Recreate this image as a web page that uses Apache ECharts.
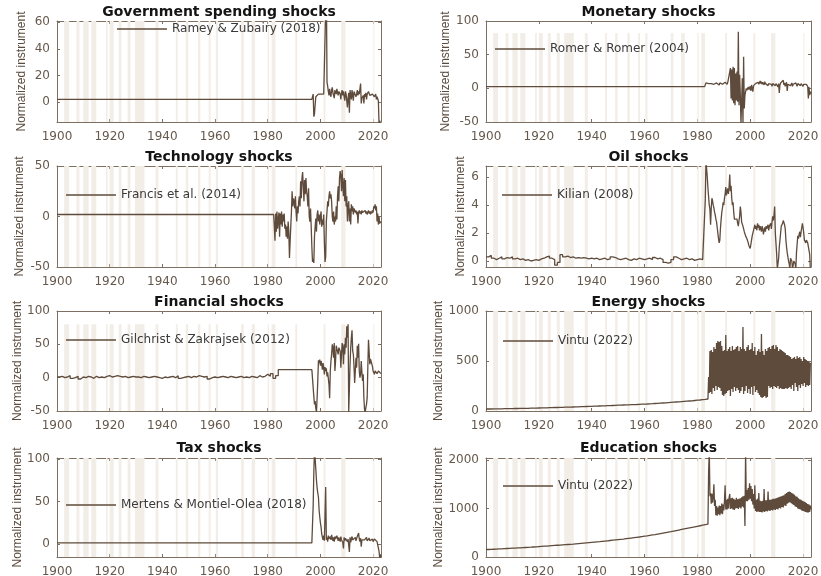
<!DOCTYPE html>
<html>
<head>
<meta charset="utf-8">
<script src="https://cdn.jsdelivr.net/npm/echarts@6.0.0/dist/echarts.min.js"></script>
<style>
  html, body { margin: 0; padding: 0; background: #ffffff; }
  #chart { width: 821px; height: 576px; }
</style>
</head>
<body>
<div id="chart"></div>
<script>
// ---- tick labels -------------------------------------------------------
const yearTicks = [1900, 1920, 1940, 1960, 1980, 2000, 2020];
const govTicks = [0, 20, 40, 60];
const monTicks = [-50, 0, 50, 100];
const techTicks = [-50, 0, 50];
const oilTicks = [0, 2, 4, 6];
const finTicks = [-50, 0, 50, 100];
const energyTicks = [0, 500, 1000];
const taxTicks = [0, 50, 100];
const eduTicks = [0, 1000, 2000];

// ---- US recession periods (start, end) shaded in every panel -----------
const recessions = [
  [1902.7, 1904.6], [1907.4, 1908.5], [1910.0, 1912.0], [1913.0, 1914.9],
  [1918.6, 1919.2], [1920.0, 1921.5], [1923.4, 1924.5], [1926.8, 1927.9],
  [1929.6, 1933.2], [1937.4, 1938.5], [1945.1, 1945.8], [1948.9, 1949.8],
  [1953.5, 1954.4], [1957.6, 1958.3], [1960.3, 1961.1], [1969.9, 1970.9],
  [1973.9, 1975.2], [1980.0, 1980.5], [1981.5, 1982.9], [1990.5, 1991.2],
  [2001.2, 2001.9], [2007.9, 2009.5], [2020.1, 2020.3]
];

// ---- Government spending shocks: Ramey & Zubairy (2018) ----------------
const govFlat = [[1900, 2], [1996.75, 2]];
const govQuarterStart = 1997;
const govQuarterly = [
  2, 6, -11, -9,   -2, 4, 5, 5,   5, 6, 5, 6,   5, 6, 5, 6,   5, 6, 6, 7,
  5, 90, 15, 12,   8, 5, 10, 6,   4, 9, 11, 7,   6, 3, 9, 8,   6, 10, 7, 5,
  8, 9, 6, 2,   7, 9, 5, 8,   4, 1, 8, 6,   5, -4, 3, 7,   -8, 9, 8, 2,
  9, 5, 1, 8,   7, 8, 4, 6,   9, 5, 8, 6,   10, 14, -1, 3,   2, 5, -1, 6,
  4, 7, 2, 6,   5, 8, 7, 5,   6, 5, 4, 6,   5, 6, 4, 5,   6, 2, 4, 3,
  1, -16, -14, -16,   -16
];

// ---- Monetary shocks: Romer & Romer (2004) -----------------------------
const monFlat = [[1900, 2.5], [1982.75, 2.5]];
const monQuarterStart = 1983;
const monQuarterly = [
  3, 8, 7, 6,   9, 7, 5, 8,   6, 7, 5, 6,   8, 6, 7, 5,   6, 8, 7, 6,
  7, 5, 8, 6,   7, 8, 6, 7,   8, 7, 9, 7,   8, 6, 9, 8,   7, 9, 30, -15,
  28, -18, 32, -22,   30, -25, 22, -18,   25, -20, 84, -25,   20, -10, -52, -52,
  15, -52, 47, -30,   -10, -8, 0, -3,   -5, 2, -2, 0,   3, -4, 5, 6,   -5, 4, 6, 5,
  7, 5, 8, 6,   9, 6, 8, 11,   7, 10, 6, 9,   8, 5, 10, 7,   9, 6, 8, 4,
  7, 9, 5, 8,   6, 3, 7, 8,   5, 8, 4, 7,   8, 6, 2, 7,   -7, 5, 8, 6,
  7, 9, 12, 5,   8, 3, 6, 9,   -4, 6, 8, 5,   7, 4, 6, 8,   3, 6, 7, 4,
  5, 8, 6, 3,   7, 5, 6, 8,   4, 7, 5, 6,   3, 6, 5, 7,   4, 6, 5, 3,
  -15, 2, -10, -5,   -8
];

// ---- Technology shocks: Francis et al. (2014) ---------------------------
const techFlat = [[1900, 2], [1982.25, 2]];
const techQuarterStart = 1982.5;
const techQuarterly = [
  -10, -24,
  3, -15, 5, -12,   -3, 4, -20, 3,   -8, 5, -10, 2,   -5, 3, -12, -8,
  -20, -10, -22, -5,   -15, -41, -25, -10,   5, 25, 10, 18,   15, 8, 20, 5,
  -5, 10, 3, 15,   20, 10, 35, 18,   38, 44, 30, 15,   36, 22, 38, 25,
  20, 10, 28, 0,   -5, 8, -10, -30,   -45, -42, -46, -20,   -10, -2, -15, 2,
  6, -5, 2, -8,   0, 5, -10, -3,   -8, 2, -25, -45,   -40, -5, 5, 15,
  10, 20, 25, 18,   22, 15, 0, -5,   5, -8, 0, -5,   10, -3, 20, 30,
  15, 38, 45, 40,   25, 46, 30, 20,   38, 15, 36, 10,   20, -5, 10, 15,
  -5, 8, -8, 12,   5, 10, 2, 8,   7, 4, 6, 2,   5, -7, 4, 6,
  3, 5, 2, 6,   4, 3, 5, 4,   6, 3, 5, 2,   4, 6, 3, 5,
  2, 5, 3, 6,   4, 10, 8, 12,   6, 10, -5, 3,   -8, 0, -7, -5,   -6
];

// ---- Oil shocks: Kilian (2008) -----------------------------------------
const oilYearStart = 1900;
const oilYearly = [
  0.3, 0.4, 0.2, 0.1, 0.2, 0.3, 0.15, 0.25, 0.2, 0.3,
  0.15, 0.2, 0.1, 0.15, 0.05, 0.1, 0.0, 0.05, 0.1, 0.05,
  0.15, 0.2, 0.3, 0.35, 0.2, 0.1, -0.3, -0.1, 0.45, 0.3,
  0.35, 0.25, 0.3, 0.2, 0.25, 0.2, 0.25, 0.2, 0.15, 0.2,
  0.15, 0.2, 0.1, 0.15, 0.2, 0.1, 0.15, 0.3, 0.25, 0.15,
  0.1, 0.15, 0.2, 0.1, 0.05, 0.15, 0.1, 0.2, 0.15, 0.1,
  0.15, 0.2, 0.1, 0.25, 0.15, 0.2, 0.1, -0.1, -0.15, -0.1,
  0.1, 0.3, 0.2, 0.1, 0.15, 0.2, 0.1, 0.15, 0.05, 0.1,
  0.15, 0.1, 0.05
];
const oilQuarterStart = 1982.5;
const oilQuarterly = [
  0.1, 0.2,
  4.4, 7.2, 7.2, 6.0,   5.2, 4.6, 4.0, 3.7,   2.6, 3.8, 4.5, 4.3,   4.0, 3.8, 3.5, 3.3,
  3.0, 2.8, 2.4, 2.0,   1.6, 1.3, 1.5, 2.4,   3.0, 3.5, 3.8, 4.2,   4.0, 4.5, 4.8, 5.3,
  4.7, 5.0, 5.2, 4.8,   5.3, 6.2, 5.0, 5.4,   4.5, 4.0, 4.2, 3.5,   3.0, 3.1, 2.9, 3.1,
  3.0, 2.7, 2.5, 2.9,   3.2, 3.9, 3.5, 2.8,   2.7, 2.5, 2.3, 2.1,   2.0, 1.8, 1.9, 1.6,
  1.5, 1.3, 1.1, 1.0,   0.9, 1.2, 1.5, 1.8,   2.0, 2.2, 2.3, 2.6,   2.3, 2.5, 2.2, 2.7,
  2.4, 2.6, 2.2, 2.5,   2.3, 2.1, 2.5, 2.3,   1.9, 2.2, 2.4, 2.1,   2.5, 2.3, 2.4, 2.6,
  2.2, 2.5, 2.4, 2.7,   2.3, 2.8, 3.2, 2.9,   3.3, 3.9, 2.0, 1.9,   0.5, -0.6, -0.6, 0.2,
  1.0, 1.5, 2.0, 2.5,   2.4, 2.7, 2.9, 2.8,   2.6, 2.3, 1.5, 1.0,   0.6, 0.3, 0.0, -0.2,
  -0.6, 0.2, 0.1, 0.0,   -0.6, -0.6, 0.0, 0.1,   -0.2, -0.6, 0.6, 1.2,   1.8, 1.6, 1.9, 2.1,
  1.7, 2.1, 2.4, 2.7,   2.4, 2.0, 1.5, 1.4,   1.3, 1.5, 1.4, 1.3,   1.4, 1.4, 0.5, -0.6,
  -0.6
];

// ---- Financial shocks: Gilchrist & Zakrajsek (2012) ---------------------
const finYearStart = 1900;
const finYearly = [
  1, 2, 0, 1, 3, -1, 0, 2, -2, 1,
  0, 2, 1, -1, 2, 0, 1, 0, 2, 3,
  1, 2, 3, 2, 1, 2, 0, 1, 2, 1,
  1, 0, 2, 1, 0, 1, 2, 1, 0, -1,
  1, 0, 1, 2, 0, 3, -1, 0, 1, 2,
  0, 2, 1, 3, 2, 1, 2, -2, 0, 1,
  0, 1, 2, 1, 0, 2, 1, 0, 1, 2,
  0, 1, 0, 2, 1, 0, 3, 1, 2, 5,
  2, 6, -1, 3
];
const finFlat = [[1984, 12], [1996.75, 12]];
const finQuarterStart = 1997;
const finQuarterly = [
  12, 12, -28, -40,   -35, -46, -52, -30,   -5, 26, 22, 27,   18, 25, 20, 12,
  22, 15, 5, 16,   10, 14, 2, 8,   5, -10, -31, 10,   25, 35, 50, 45,
  30, 52, 10, 25,   48, 45, 50, 35,   45, 48, 40, 15,   35, 52, 45, 20,
  50, 35, 60, 45,   77, 60, 80, -52,   -52, 20, 45, 60,   71, 40, 35, 17,
  -8, 10, 30, 15,   48, 30, 51, 10,   0, 5, 25, 8,   -5, 5, -30, -48,
  -52, -45, -40, -30,   15, 57, 59, 20,   28, 25, 30, 17,   10, 8, 5, 10,
  8, 11, 6, 9,   10, 8, 9, 8,   6
];

// ---- Energy shocks: Vintu (2022) ---------------------------------------
const energyYearStart = 1900;
const energyYearly = [
  20, 20, 21, 21, 22, 22, 23, 23, 24, 24,
  25, 25, 26, 26, 27, 27, 28, 28, 29, 30,
  31, 32, 32, 33, 34, 35, 35, 36, 37, 38,
  39, 39, 40, 41, 42, 43, 44, 45, 46, 47,
  48, 49, 50, 51, 52, 53, 54, 55, 56, 58,
  59, 60, 61, 62, 63, 64, 65, 67, 68, 69,
  70, 72, 73, 75, 76, 78, 80, 82, 84, 86,
  88, 90, 92, 94, 96, 98, 100, 102, 105, 108,
  110, 113, 116, 120, 123
];
const energyQuarterStart = 1984.25;
const energyQuarterly = [
  340, 180, 600,
  190, 610, 170, 590,   230, 640, 200, 620,   250, 680, 210, 700,   240, 690, 230, 700,
  200, 650, 160, 600,   150, 610, 170, 760,   180, 600, 200, 620,   210, 640, 150, 600,
  220, 650, 190, 610,   240, 620, 200, 640,   230, 650, 210, 600,   180, 640, 200, 620,
  240, 840, 170, 620,   200, 600, 250, 640,   180, 660, 220, 610,   170, 620, 240, 680,
  160, 600, 250, 640,   190, 560, 210, 600,   180, 620, 160, 590,   140, 770, 130, 600,
  140, 560, 150, 620,   130, 600, 140, 630,   250, 640, 230, 620,   240, 650, 220, 660,
  250, 620, 240, 660,   230, 640, 250, 600,   220, 620, 230, 610,   220, 600, 220, 590,
  220, 580, 230, 560,   220, 560, 230, 550,   240, 540, 220, 520,   260, 530, 200, 540,
  280, 520, 240, 550,   200, 530, 260, 540,   230, 520, 270, 500,   250, 540, 280, 520,
  240, 510, 260, 500,   250, 490, 260, 480,   470
];

// ---- Tax shocks: Mertens & Montiel-Olea (2018) -------------------------
const taxFlat = [[1900, 1.5], [1996.75, 1.5]];
const taxQuarterStart = 1997;
const taxQuarterly = [
  1.5, 45, 85, 110,   100, 88, 75, 66,   60, 55, 40, 32,   25, 20, 12, 8,
  5, 10, 4, 35,   67, 5, 8, 3,   10, 6, 4, 9,   5, 11, 7, 4,
  8, 3, 9, 6,   5, 10, 7, 4,   8, 6, 3, 9,   5, 7, 2, -5,
  8, 4, 7, 5,   9, 3, 6, 4,   -9, 8, 2, 6,   9, 5, 7, 3,
  6, 8, 4, 7,   5, 9, 13, 6,   3, 7, -3, 5,   6, 4, 7, 5,
  3, 6, 8, 4,   6, 5, 7, 4,   5, 6, 4, 6,   3, 5, 6, 4,
  5, 4, 3, 2,   1, -8, -16, -12,   -16
];

// ---- Education shocks: Vintu (2022) ------------------------------------
const eduYearStart = 1900;
const eduYearly = [
  155, 157, 160, 163, 166, 169, 172, 175, 178, 181,
  184, 187, 190, 193, 196, 199, 202, 206, 210, 214,
  218, 222, 226, 230, 234, 238, 242, 246, 250, 254,
  258, 262, 266, 271, 276, 281, 286, 291, 296, 301,
  306, 311, 316, 322, 328, 334, 340, 346, 352, 358,
  364, 370, 377, 384, 391, 398, 405, 412, 420, 428,
  436, 445, 454, 463, 473, 483, 493, 503, 513, 523,
  534, 545, 556, 567, 578, 589, 600, 611, 622, 633,
  644, 655, 666, 677, 688
];
const eduQuarterStart = 1984.25;
const eduQuarterly = [
  1750, 2200, 1250,
  1320, 1100, 1300, 1120,   1250, 1500, 1050, 1180,   860, 1050, 850, 1020,
  880, 1060, 860, 1050,   900, 1100, 880, 1080,   960, 1150, 1480, 980,
  1180, 980, 1200, 1000,   1220, 1300, 990, 1210,   1000, 1220, 980, 1200,
  970, 1180, 1000, 1220,   1010, 1190, 990, 1200,   1020, 1210, 1000, 1230,
  1040, 1250, 1020, 1260,   640, 2200, 1150, 1380,   1150, 1420, 1180, 1520,
  1200, 1460, 1150, 1400,   1080, 1300, 1000, 1480,   950, 1180, 930, 1200,
  940, 1320, 930, 1160,   930, 1150, 920, 1160,   940, 1400, 930, 1170,
  950, 1170, 940, 1350,   960, 1180, 950, 1180,   970, 1190, 960, 1200,
  980, 1200, 970, 1210,   990, 1220, 980, 1230,   1010, 1240, 1000, 1250,
  1030, 1260, 1020, 1270,   1060, 1300, 1050, 1320,   1100, 1340, 1120, 1350,
  1130, 1340, 1110, 1320,   1090, 1300, 1070, 1280,   1040, 1250, 1030, 1240,
  1000, 1210, 990, 1190,   980, 1180, 960, 1160,   950, 1150, 940, 1130,
  930, 1110, 920, 1090,   920, 1080, 930, 1060,   980
];

// ---- helpers turning the value lists into [year, value] pairs ----------
function byStep(start, step, values) {
  return values.map(function (v, i) { return [start + i * step, v]; });
}
const Q = 0.25;

const panels = [
  { title: 'Government spending shocks', name: 'Ramey & Zubairy (2018)',
    data: govFlat.concat(byStep(govQuarterStart, Q, govQuarterly)),
    col: 0, row: 0, yMin: -15, yMax: 61, ticks: govTicks, bandTop: null,
    nameGap: 29, legend: [117, 30] },
  { title: 'Monetary shocks', name: 'Romer & Romer (2004)',
    data: monFlat.concat(byStep(monQuarterStart, Q, monQuarterly)),
    col: 1, row: 0, yMin: -50, yMax: 100, ticks: monTicks, bandTop: 82,
    nameGap: 34, legend: [495, 50] },
  { title: 'Technology shocks', name: 'Francis et al. (2014)',
    data: techFlat.concat(byStep(techQuarterStart, Q, techQuarterly)),
    col: 0, row: 1, yMin: -50, yMax: 50, ticks: techTicks, bandTop: null,
    nameGap: 31, legend: [66, 196] },
  { title: 'Oil shocks', name: 'Kilian (2008)',
    data: byStep(oilYearStart, 1, oilYearly).concat(byStep(oilQuarterStart, Q, oilQuarterly)),
    col: 1, row: 1, yMin: -0.43, yMax: 6.81, ticks: oilTicks, bandTop: null,
    nameGap: 19, legend: [502, 196] },
  { title: 'Financial shocks', name: 'Gilchrist & Zakrajsek (2012)',
    data: byStep(finYearStart, 1, finYearly).concat(finFlat, byStep(finQuarterStart, Q, finQuarterly)),
    col: 0, row: 2, yMin: -50, yMax: 100, ticks: finTicks, bandTop: 80,
    nameGap: 32, legend: [66, 341] },
  { title: 'Energy shocks', name: 'Vintu (2022)',
    data: byStep(energyYearStart, 1, energyYearly).concat(byStep(energyQuarterStart, Q, energyQuarterly)),
    col: 1, row: 2, yMin: 0, yMax: 1000, ticks: energyTicks, bandTop: null,
    nameGap: 35, legend: [503, 342] },
  { title: 'Tax shocks', name: 'Mertens & Montiel-Olea (2018)',
    data: taxFlat.concat(byStep(taxQuarterStart, Q, taxQuarterly)),
    col: 0, row: 3, yMin: -15, yMax: 101, ticks: taxTicks, bandTop: null,
    nameGap: 29, legend: [66, 506] },
  { title: 'Education shocks', name: 'Vintu (2022)',
    data: byStep(eduYearStart, 1, eduYearly).concat(byStep(eduQuarterStart, Q, eduQuarterly)),
    col: 1, row: 3, yMin: 0, yMax: 2040, ticks: eduTicks, bandTop: null,
    nameGap: 36, legend: [503, 487] }
];

// ---- layout and styling -------------------------------------------------
const colLeft = [57, 486];
const colWidth = [324, 325];
const rowTop = [21, 166, 311, 458];
const rowHeight = [101, 101, 100, 99];
const titleY = [12, 157, 302.5, 448];

const lineColor = '#5f4b3b';
const bandColor = '#f2ede7';
const axisColor = '#7d6f62';
const labelColor = '#66584b';
const baseFont = "'DejaVu Sans', Verdana, sans-serif";
const nameFont = "'Liberation Sans', Arial, sans-serif";
const plainNumber = function (v) { return String(v); };

const grid = [], xAxis = [], yAxis = [], series = [], legend = [], graphic = [];

panels.forEach(function (p, i) {
  const left = colLeft[p.col];
  const width = colWidth[p.col];
  grid.push({ left: left, top: rowTop[p.row], width: width, height: rowHeight[p.row],
              containLabel: false, outerBoundsMode: 'none' });

  const axLine = { show: true, onZero: false, lineStyle: { color: axisColor, width: 1 } };
  // bottom / top x axes (top one only closes the box and carries ticks)
  xAxis.push({ gridIndex: i, type: 'value', min: 1900, max: 2023, position: 'bottom',
    axisLine: axLine, splitLine: { show: false },
    axisTick: { show: true, inside: true, length: 3, customValues: yearTicks, lineStyle: { color: axisColor } },
    axisLabel: { show: true, customValues: yearTicks, formatter: plainNumber, margin: 9,
                 color: labelColor, fontFamily: baseFont, fontSize: 12 } });
  xAxis.push({ gridIndex: i, type: 'value', min: 1900, max: 2023, position: 'top',
    axisLine: axLine, splitLine: { show: false },
    axisTick: { show: true, inside: true, length: 3, customValues: yearTicks, lineStyle: { color: axisColor } },
    axisLabel: { show: false } });
  // left / right y axes
  yAxis.push({ gridIndex: i, type: 'value', min: p.yMin, max: p.yMax, position: 'left',
    axisLine: axLine, splitLine: { show: false },
    axisTick: { show: true, inside: true, length: 3, customValues: p.ticks, lineStyle: { color: axisColor } },
    axisLabel: { show: true, customValues: p.ticks, formatter: plainNumber, margin: 7,
                 color: labelColor, fontFamily: baseFont, fontSize: 12 },
    name: 'Normalized instrument', nameLocation: 'middle', nameGap: p.nameGap, nameRotate: 90,
    nameTextStyle: { color: '#5b4c3f', fontFamily: nameFont, fontSize: 12 } });
  yAxis.push({ gridIndex: i, type: 'value', min: p.yMin, max: p.yMax, position: 'right',
    axisLine: axLine, splitLine: { show: false },
    axisTick: { show: true, inside: true, length: 3, customValues: p.ticks, lineStyle: { color: axisColor } },
    axisLabel: { show: false } });

  const bandTop = p.bandTop === null ? p.yMax : p.bandTop;
  series.push({
    type: 'custom', xAxisIndex: 2 * i, yAxisIndex: 2 * i, silent: true, z: 1, clip: true,
    data: recessions.map(function (r) { return [r[0], r[1], bandTop, p.yMin]; }),
    encode: { x: [0, 1], y: [2, 3] },
    renderItem: function (params, api) {
      const a = api.coord([api.value(0), api.value(2)]);
      const b = api.coord([api.value(1), api.value(3)]);
      return { type: 'rect',
        shape: { x: a[0], y: a[1], width: Math.max(b[0] - a[0], 1), height: b[1] - a[1] },
        style: { fill: bandColor } };
    }
  });
  series.push({
    type: 'line', name: p.name, xAxisIndex: 2 * i, yAxisIndex: 2 * i, z: 3,
    data: p.data, step: 'end', showSymbol: false, symbol: 'none', clip: true,
    lineStyle: { color: lineColor, width: 1.3 }, itemStyle: { color: lineColor },
    emphasis: { disabled: true }
  });

  legend.push({ data: [{ name: p.name, icon: 'rect' }], left: p.legend[0], top: p.legend[1] - 7,
    padding: 0, itemWidth: 50, itemHeight: 1.5, selectedMode: false,
    textStyle: { color: '#3a3a3a', fontFamily: baseFont, fontSize: 12 } });

  graphic.push({ type: 'text', x: left + width / 2, y: titleY[p.row], silent: true,
    style: { text: p.title, fill: '#141414', font: "bold 14px 'DejaVu Sans', Verdana, sans-serif",
             align: 'center', verticalAlign: 'middle' } });
});

const chart = echarts.init(document.getElementById('chart'), null, { renderer: 'canvas' });
chart.setOption({
  animation: false,
  backgroundColor: '#ffffff',
  grid: grid, xAxis: xAxis, yAxis: yAxis, series: series, legend: legend, graphic: graphic,
  tooltip: { show: false }
});
</script>
</body>
</html>
